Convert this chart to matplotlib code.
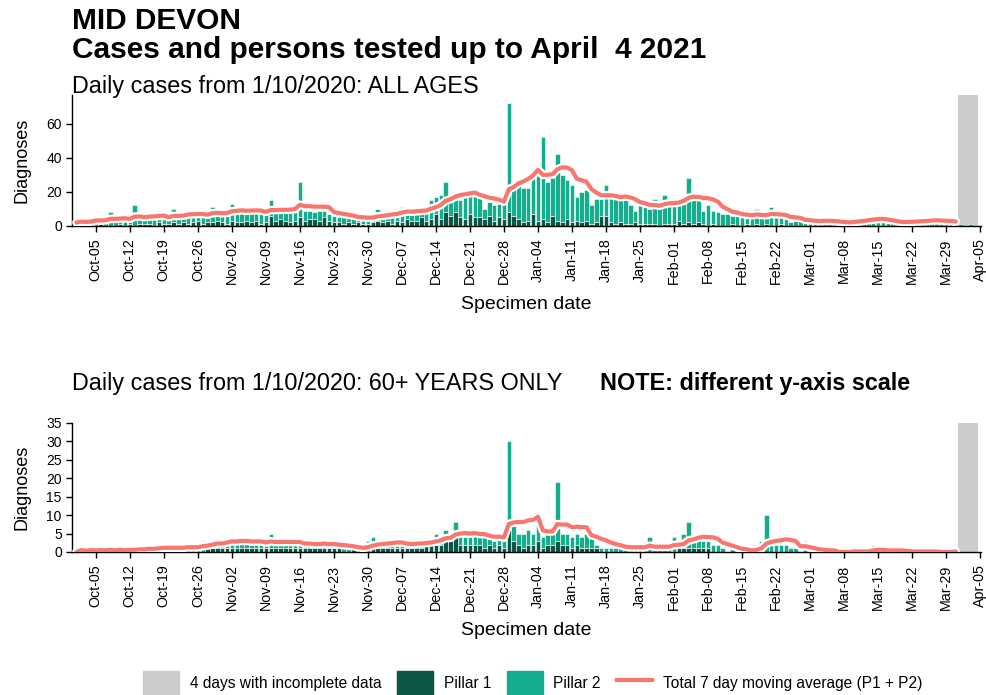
import numpy as np
import pandas as pd
import matplotlib
matplotlib.use('Agg')
import matplotlib.pyplot as plt
import matplotlib.dates as mdates
from matplotlib.patches import Patch
from matplotlib.lines import Line2D
import matplotlib.patheffects as pe

plt.rcParams['font.family'] = ['Liberation Sans', 'DejaVu Sans']

# ---------------- data ----------------
dates = pd.date_range('2020-10-01', '2021-04-04')
incomplete_days = 4

# All ages: total daily cases (P1 + P2) and Pillar 1 cases
all_total = sum([
    [2, 3, 2, 3, 6, 3, 4],
    [8, 3, 3, 4, 4, 12, 5],
    [5, 5, 4, 6, 5, 6, 10],
    [5, 6, 9, 7, 6, 6, 7],
    [11, 8, 7, 8, 13, 8, 9],
    [9, 9, 8, 7, 8, 15, 9],
    [10, 9, 9, 9, 26, 9, 9],
    [8, 9, 9, 7, 6, 5, 5],
    [5, 5, 4, 5, 5, 5, 10],
    [7, 8, 7, 7, 11, 9, 9],
    [9, 10, 8, 15, 17, 18, 26],
    [16, 20, 15, 18, 21, 21, 17],
    [10, 14, 12, 13, 13, 72, 26],
    [25, 22, 22, 28, 35, 52, 26],
    [28, 42, 30, 27, 24, 17, 20],
    [21, 12, 16, 16, 24, 17, 17],
    [16, 15, 12, 9, 12, 12, 10],
    [16, 12, 18, 13, 13, 14, 17],
    [28, 17, 17, 9, 12, 9, 8],
    [7, 7, 6, 6, 6, 6, 6],
    [10, 5, 5, 11, 5, 5, 4],
    [2, 3, 3, 3, 3, 3, 3],
    [3, 3, 2, 1, 1, 1, 5],
    [5, 5, 5, 4, 3, 2, 2],
    [2, 1, 2, 4, 4, 3, 3],
    [3, 3, 3, 3, 3, 2, 1],
    [1, 0, 1, 0],
], [])

all_p1 = sum([
    [0, 0, 0, 0, 0, 1, 0],
    [0, 0, 1, 0, 1, 0, 1],
    [1, 1, 0, 2, 1, 1, 2],
    [1, 2, 1, 2, 3, 1, 2],
    [2, 3, 2, 1, 3, 2, 2],
    [3, 2, 3, 1, 2, 6, 3],
    [4, 3, 2, 3, 5, 3, 4],
    [4, 3, 5, 3, 2, 2, 1],
    [2, 1, 2, 1, 1, 2, 3],
    [2, 3, 1, 3, 2, 4, 3],
    [3, 5, 3, 4, 7, 4, 8],
    [6, 8, 5, 4, 7, 5, 5],
    [4, 6, 3, 5, 4, 8, 6],
    [4, 2, 3, 7, 3, 4, 2],
    [6, 3, 2, 4, 2, 3, 2],
    [3, 1, 2, 6, 6, 2, 1],
    [2, 1, 1, 2, 1, 1, 1],
    [1, 0, 1, 1, 1, 3, 1],
    [2, 1, 2, 1, 0, 1, 0],
    [0, 0, 1, 0, 0, 1, 0],
    [1, 0, 1, 0, 0, 1, 0],
    [0, 0, 0, 0, 0, 0, 0],
    [0, 0, 0, 0, 0, 0, 0],
    [0, 1, 0, 0, 0, 0, 0],
    [0, 0, 0, 0, 0, 0, 0],
    [0, 0, 0, 0, 0, 0, 0],
    [0, 0, 0, 0],
], [])

# 60+ years: total daily cases and Pillar 1 cases
old_total = sum([
    [0, 1, 0, 1, 0, 1, 0],
    [1, 0, 1, 0, 1, 1, 1],
    [1, 1, 1, 1, 2, 1, 1],
    [1, 1, 2, 1, 2, 3, 2],
    [3, 3, 2, 3, 4, 3, 3],
    [3, 2, 2, 3, 2, 5, 2],
    [3, 2, 2, 3, 2, 2, 2],
    [2, 2, 3, 2, 2, 1, 1],
    [1, 1, 1, 1, 3, 4, 3],
    [2, 2, 2, 2, 3, 2, 2],
    [3, 2, 3, 3, 5, 4, 6],
    [4, 8, 5, 4, 4, 5, 4],
    [4, 5, 3, 4, 3, 30, 7],
    [5, 5, 6, 5, 9, 4, 5],
    [5, 19, 5, 5, 4, 5, 4],
    [5, 4, 2, 1, 1, 1, 1],
    [3, 1, 1, 1, 1, 1, 4],
    [1, 1, 1, 1, 4, 2, 5],
    [8, 3, 4, 3, 3, 2, 2],
    [1, 0, 1, 0, 0, 1, 0],
    [2, 3, 10, 3, 2, 2, 2],
    [1, 1, 0, 3, 0, 0, 0],
    [0, 0, 0, 0, 0, 0, 1],
    [0, 0, 0, 2, 1, 0, 0],
    [0, 0, 0, 1, 0, 0, 0],
    [0, 0, 0, 0, 0, 0, 1],
    [0, 0, 0, 0],
], [])

old_p1 = sum([
    [0, 0, 0, 0, 0, 0, 0],
    [0, 0, 0, 0, 0, 0, 0],
    [0, 0, 0, 0, 2, 0, 0],
    [0, 0, 0, 0, 0, 0, 1],
    [1, 1, 1, 1, 1, 1, 1],
    [1, 1, 1, 1, 1, 1, 1],
    [1, 1, 1, 1, 1, 1, 1],
    [1, 1, 1, 1, 1, 1, 0],
    [0, 1, 0, 0, 1, 1, 1],
    [1, 1, 1, 1, 1, 1, 1],
    [1, 1, 2, 2, 2, 2, 3],
    [3, 4, 2, 2, 2, 2, 2],
    [1, 2, 1, 2, 1, 6, 3],
    [2, 1, 2, 2, 3, 1, 2],
    [2, 3, 2, 2, 1, 2, 1],
    [1, 1, 1, 0, 0, 0, 0],
    [0, 0, 0, 0, 0, 0, 0],
    [0, 0, 0, 0, 0, 1, 1],
    [1, 1, 1, 1, 1, 0, 0],
    [0, 0, 0, 0, 0, 0, 0],
    [0, 0, 0, 0, 0, 0, 0],
    [0, 0, 0, 0, 0, 0, 0],
    [0, 0, 0, 0, 0, 0, 0],
    [0, 0, 0, 0, 0, 0, 0],
    [0, 0, 0, 1, 0, 0, 0],
    [0, 0, 0, 0, 0, 0, 0],
    [0, 0, 0, 0],
], [])

# ---------------- style ----------------
C_P1 = '#0b5646'
C_P2 = '#14ae8e'
C_GREY = '#cccccc'
C_MA = '#f8766d'

fig = plt.figure(figsize=(9.87, 6.95), dpi=100)
ax1 = fig.add_axes([0.0725, 0.675, 0.921, 0.1885])
ax2 = fig.add_axes([0.0725, 0.2058, 0.921, 0.1856])

x0 = mdates.date2num(dates[0])


def panel(ax, total, p1, ymax, yticks):
    total = np.array(total, dtype=float)
    p1 = np.array(p1, dtype=float)
    p2 = total - p1
    inc = dates[-incomplete_days:]
    ax.axvspan(mdates.date2num(inc[0]) - 0.5, mdates.date2num(inc[-1]) + 0.5,
               ymin=0, ymax=1, color=C_GREY, lw=0, zorder=1)
    ax.bar(dates, p1, width=0.92, color=C_P1, edgecolor='white', linewidth=0.4, zorder=2)
    ax.bar(dates, p2, bottom=p1, width=0.92, color=C_P2, edgecolor='white', linewidth=0.4, zorder=2)
    ma = pd.Series(total).rolling(7, min_periods=1).mean()
    n = len(dates) - incomplete_days
    ax.plot(dates[:n], ma[:n], color=C_MA, lw=3.0, zorder=3, solid_capstyle='round',
            path_effects=[pe.Stroke(linewidth=6.2, foreground='white'), pe.Normal()])
    ax.set_xlim(x0 - 1.0, x0 + 186.1)
    ax.set_ylim(0, ymax)
    ax.set_yticks(yticks)
    ax.xaxis.set_major_locator(mdates.WeekdayLocator(byweekday=mdates.MO))
    ax.xaxis.set_major_formatter(mdates.DateFormatter('%b-%d'))
    for s in ['top', 'right']:
        ax.spines[s].set_visible(False)
    for s in ['left', 'bottom']:
        ax.spines[s].set_linewidth(1.0)
    ax.tick_params(axis='x', labelrotation=90, labelsize=10.3, length=4, width=1, pad=5)
    ax.tick_params(axis='y', labelsize=10, length=4, width=1, pad=3)
    ax.set_ylabel('Diagnoses', fontsize=13, labelpad=11)
    ax.set_xlabel('Specimen date', fontsize=14, labelpad=8)


panel(ax1, all_total, all_p1, 77, [0, 20, 40, 60])
panel(ax2, old_total, old_p1, 35, [0, 5, 10, 15, 20, 25, 30, 35])

fig.text(0.073, 0.958, 'MID DEVON', fontsize=21.5, fontweight='bold', va='baseline')
fig.text(0.073, 0.916, 'Cases and persons tested up to April  4 2021', fontsize=21.5,
         fontweight='bold', va='baseline')
fig.text(0.073, 0.866, 'Daily cases from 1/10/2020: ALL AGES', fontsize=16.8, va='baseline')
fig.text(0.073, 0.439, 'Daily cases from 1/10/2020: 60+ YEARS ONLY', fontsize=16.8, va='baseline')
fig.text(0.608, 0.439, 'NOTE: different y-axis scale', fontsize=16.8, fontweight='bold',
         va='baseline')

handles = [Patch(color=C_GREY), Patch(color=C_P1), Patch(color=C_P2),
           Line2D([0], [0], color=C_MA, lw=3)]
labels = ['4 days with incomplete data', 'Pillar 1', 'Pillar 2',
          'Total 7 day moving average (P1 + P2)']
fig.legend(handles, labels, loc='center', bbox_to_anchor=(0.54, 0.017), ncol=4,
           frameon=False, fontsize=11.2, handlelength=2.3, handleheight=2.0,
           columnspacing=1.0, handletextpad=0.7)

fig.savefig('out.png', dpi=100)
